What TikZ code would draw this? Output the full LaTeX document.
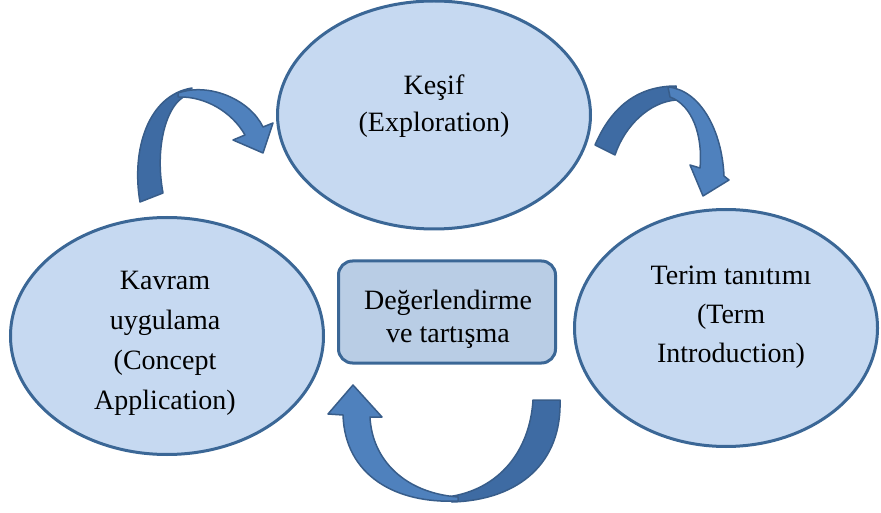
\documentclass[tikz,border=0pt]{standalone}
\usepackage{fontspec}
\setmainfont{Liberation Serif}
\usetikzlibrary{shapes.geometric}
\definecolor{ellfill}{HTML}{C6D9F1}
\definecolor{ellline}{HTML}{3B6796}
\definecolor{boxfill}{HTML}{B9CDE5}
\definecolor{arrlight}{HTML}{4F81BD}
\definecolor{arrdark}{HTML}{3E6BA3}
\definecolor{arrline}{HTML}{385D8A}
\begin{document}
\begin{tikzpicture}[x=1pt,y=-1pt,
  ell/.style={ellipse, draw=ellline, fill=ellfill, line width=3pt, inner sep=0pt},
  lbl/.style={align=center, inner sep=0pt, text=black},
  arrback/.style={fill=arrdark, draw=arrline, line width=1.5pt, line join=round},
  arrfront/.style={fill=arrlight, draw=arrline, line width=1.5pt, line join=round}]
\useasboundingbox (0,0) rectangle (881,513);

% ellipses
\node[ell, minimum width=313pt, minimum height=228pt] (kesif) at (434,115) {};
\node[ell, minimum width=313pt, minimum height=237pt] (kavram) at (167,336) {};
\node[ell, minimum width=303pt, minimum height=237pt] (terim) at (726,328) {};
\node[draw=ellline, fill=boxfill, line width=3pt, rounded corners=14pt,
      minimum width=217pt, minimum height=102pt, inner sep=0pt] (deg) at (447,312) {};

% labels
\node[lbl, font=\fontsize{28}{37}\selectfont] (kesifT) at (434,106) {Keşif\\(Exploration)};
\node[lbl, font=\fontsize{28}{40}\selectfont] (kavramT) at (165,343) {Kavram\\uygulama\\(Concept\\Application)};
\node[lbl, font=\fontsize{28}{39}\selectfont] (terimT) at (731,317) {Terim tanıtımı\\(Term\\Introduction)};
\node[lbl, font=\fontsize{28}{33}\selectfont] (degT) at (448,319) {Değerlendirme\\ve tartışma};

% left curved arrow
\path[arrback] (140,202) .. controls (131,150) and (148,95) .. (192,88)
  -- (182,98) .. controls (165,110) and (155,150) .. (163,193) -- cycle;
\path[arrfront] (178,93) .. controls (210,82) and (250,100) .. (263,127)
  -- (273,123) -- (263,153) -- (233,140) -- (245,135)
  .. controls (232,112) and (205,96) .. (178,97) -- cycle;

% right curved arrow
\path[arrback] (595,145) .. controls (610,110) and (635,86) .. (676,86)
  -- (676,100) .. controls (650,102) and (625,125) .. (615,155) -- cycle;
\path[arrfront] (668,87) .. controls (700,90) and (722,130) .. (724,176)
  -- (729,180) -- (703,196) -- (690,165) -- (700,168)
  .. controls (703,135) and (692,105) .. (670,97) -- cycle;

% bottom curved arrow
\path[arrback] (560,400) .. controls (562,462) and (520,500) .. (452,502)
  -- (447,497) .. controls (500,490) and (530,450) .. (533,400) -- cycle;
\path[arrfront] (458,501) .. controls (395,504) and (345,475) .. (343,415)
  -- (328,414) -- (353,385) -- (382,417) -- (370,417)
  .. controls (372,460) and (405,493) .. (458,497) -- cycle;
\end{tikzpicture}
\end{document}
